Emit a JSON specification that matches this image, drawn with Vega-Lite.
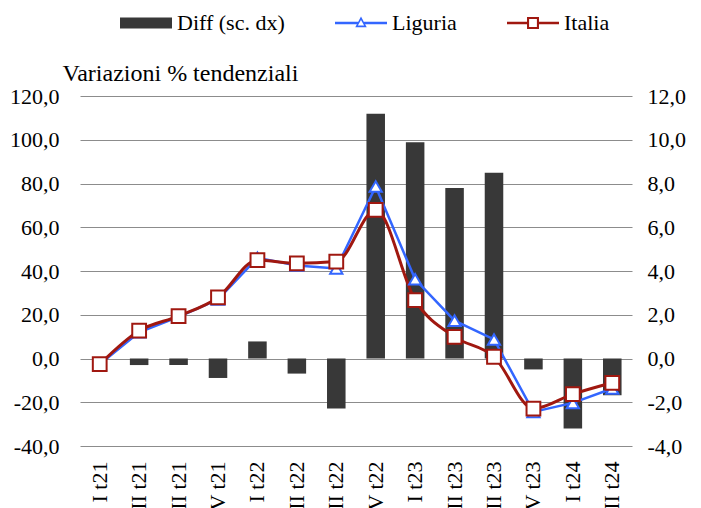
{
  "$schema": "https://vega.github.io/schema/vega-lite/v6.json",
  "width": 552,
  "height": 350,
  "autosize": {"type": "none"},
  "padding": {"left": 80, "top": 96, "right": 69, "bottom": 62},
  "background": "white",
  "config": {
    "locale": {"number": {"decimal": ",", "thousands": ".", "grouping": [3], "currency": ["€", ""], "minus": "-"}},
    "font": "Liberation Serif",
    "view": {"stroke": null},
    "axis": {"labelFont": "Liberation Serif", "labelFontSize": 22, "labelColor": "#000", "domain": false, "ticks": false, "title": null}
  },
  "data": {"values": [
    {"q": "I t21", "series": "Diff (sc. dx)", "value": 0.0},
    {"q": "II t21", "series": "Diff (sc. dx)", "value": -0.3},
    {"q": "III t21", "series": "Diff (sc. dx)", "value": -0.3},
    {"q": "IV t21", "series": "Diff (sc. dx)", "value": -0.89},
    {"q": "I t22", "series": "Diff (sc. dx)", "value": 0.78},
    {"q": "II t22", "series": "Diff (sc. dx)", "value": -0.69},
    {"q": "III t22", "series": "Diff (sc. dx)", "value": -2.29},
    {"q": "IV t22", "series": "Diff (sc. dx)", "value": 11.19},
    {"q": "I t23", "series": "Diff (sc. dx)", "value": 9.89},
    {"q": "II t23", "series": "Diff (sc. dx)", "value": 7.79},
    {"q": "III t23", "series": "Diff (sc. dx)", "value": 8.49},
    {"q": "IV t23", "series": "Diff (sc. dx)", "value": -0.5},
    {"q": "I t24", "series": "Diff (sc. dx)", "value": -3.2},
    {"q": "II t24", "series": "Diff (sc. dx)", "value": -1.68},
    {"q": "I t21", "series": "Liguria", "value": -2.6},
    {"q": "II t21", "series": "Liguria", "value": 12.0},
    {"q": "III t21", "series": "Liguria", "value": 19.0},
    {"q": "IV t21", "series": "Liguria", "value": 27.0},
    {"q": "I t22", "series": "Liguria", "value": 46.0},
    {"q": "II t22", "series": "Liguria", "value": 42.5},
    {"q": "III t22", "series": "Liguria", "value": 41.2},
    {"q": "IV t22", "series": "Liguria", "value": 78.6},
    {"q": "I t23", "series": "Liguria", "value": 36.2},
    {"q": "II t23", "series": "Liguria", "value": 17.3},
    {"q": "III t23", "series": "Liguria", "value": 8.7},
    {"q": "IV t23", "series": "Liguria", "value": -24.4},
    {"q": "I t24", "series": "Liguria", "value": -20.3},
    {"q": "II t24", "series": "Liguria", "value": -13.7},
    {"q": "I t21", "series": "Italia", "value": -2.6},
    {"q": "II t21", "series": "Italia", "value": 12.7},
    {"q": "III t21", "series": "Italia", "value": 19.4},
    {"q": "IV t21", "series": "Italia", "value": 27.9},
    {"q": "I t22", "series": "Italia", "value": 45.0},
    {"q": "II t22", "series": "Italia", "value": 43.5},
    {"q": "III t22", "series": "Italia", "value": 44.3},
    {"q": "IV t22", "series": "Italia", "value": 67.9},
    {"q": "I t23", "series": "Italia", "value": 26.7},
    {"q": "II t23", "series": "Italia", "value": 9.9},
    {"q": "III t23", "series": "Italia", "value": 0.8},
    {"q": "IV t23", "series": "Italia", "value": -22.9},
    {"q": "I t24", "series": "Italia", "value": -16.3},
    {"q": "II t24", "series": "Italia", "value": -11.1}
  ]},
  "encoding": {
    "x": {"field": "q", "type": "nominal", "sort": null, "scale": {"paddingInner": 0.53, "paddingOuter": 0.265},
      "axis": {"labelAngle": -90, "labelPadding": 15, "grid": false}},
    "color": {"field": "series", "type": "nominal",
      "scale": {"domain": ["Diff (sc. dx)", "Liguria", "Italia"], "range": ["#383838", "#3366ff", "#a01810"]},
      "legend": {
        "title": null, "orient": "none", "direction": "horizontal", "legendX": 40, "legendY": -99,
        "symbolSize": 2704, "symbolStrokeWidth": 0, "labelFont": "Liberation Serif", "labelFontSize": 22, "labelColor": "#000",
        "labelOffset": 5, "columnPadding": 50, "symbolOpacity": 1,
        "encode": {"symbols": {"update": {
          "shape": {"signal": "datum.value === 'Diff (sc. dx)' ? 'M-1,-0.21H1V0.21H-1Z' : (datum.value === 'Liguria' ? 'M-1,-0.05H-0.12V0.05H-1ZM0.12,-0.05H1V0.05H0.12ZM0,-0.25L0.22,0.16L-0.22,0.16ZM0,-0.12L-0.12,0.1L0.12,0.1Z' : 'M-1,-0.05H-0.2V0.05H-1ZM0.2,-0.05H1V0.05H0.2ZM-0.23,-0.23H0.23V0.23H-0.23ZM-0.15,-0.15V0.15H0.15V-0.15Z')"},
          "size": {"value": 2704}
        }}}
      }}
  },
  "layer": [
    {
      "transform": [{"filter": "datum.series === 'Diff (sc. dx)'"}],
      "mark": {"type": "bar"},
      "encoding": {
        "y": {"field": "value", "type": "quantitative", "scale": {"domain": [-4, 12], "nice": false, "zero": false},
          "axis": {"orient": "right", "values": [-4, -2, 0, 2, 4, 6, 8, 10, 12], "format": ".1f", "grid": false, "labelPadding": 15}}
      }
    },
    {
      "layer": [
        {
          "transform": [{"filter": "datum.series === 'Liguria'"}],
          "mark": {"type": "line", "strokeWidth": 2.5, "interpolate": "linear"},
          "encoding": {"y": {"field": "value", "type": "quantitative"}}
        },
        {
          "transform": [{"filter": "datum.series === 'Italia'"}],
          "mark": {"type": "line", "strokeWidth": 3, "interpolate": "monotone"},
          "encoding": {"y": {"field": "value", "type": "quantitative"}}
        },
        {
          "transform": [{"filter": "datum.series === 'Liguria'"}],
          "mark": {"type": "point", "shape": "triangle-up", "filled": false, "fill": "white", "fillOpacity": 1, "opacity": 1, "size": 150, "strokeWidth": 2},
          "encoding": {"y": {"field": "value", "type": "quantitative"}}
        },
        {
          "transform": [{"filter": "datum.series === 'Italia'"}],
          "mark": {"type": "point", "shape": "square", "filled": false, "fill": "white", "fillOpacity": 1, "opacity": 1, "size": 190, "strokeWidth": 2},
          "encoding": {"y": {"field": "value", "type": "quantitative"}}
        }
      ],
      "encoding": {
        "y": {"field": "value", "type": "quantitative", "scale": {"domain": [-40, 120], "nice": false, "zero": false},
          "axis": {"orient": "left", "values": [-40, -20, 0, 20, 40, 60, 80, 100, 120], "format": ".1f", "grid": true, "gridColor": "#8c8c8c", "gridWidth": 1, "gridOpacity": 1, "labelPadding": 21,
            "title": "Variazioni % tendenziali", "titleAngle": 0, "titleAlign": "left", "titleBaseline": "alphabetic", "titleX": -18, "titleY": -16, "titleFont": "Liberation Serif", "titleFontSize": 24, "titleFontWeight": "normal", "titleColor": "#000"}}
      }
    }
  ],
  "resolve": {"scale": {"y": "independent"}}
}
